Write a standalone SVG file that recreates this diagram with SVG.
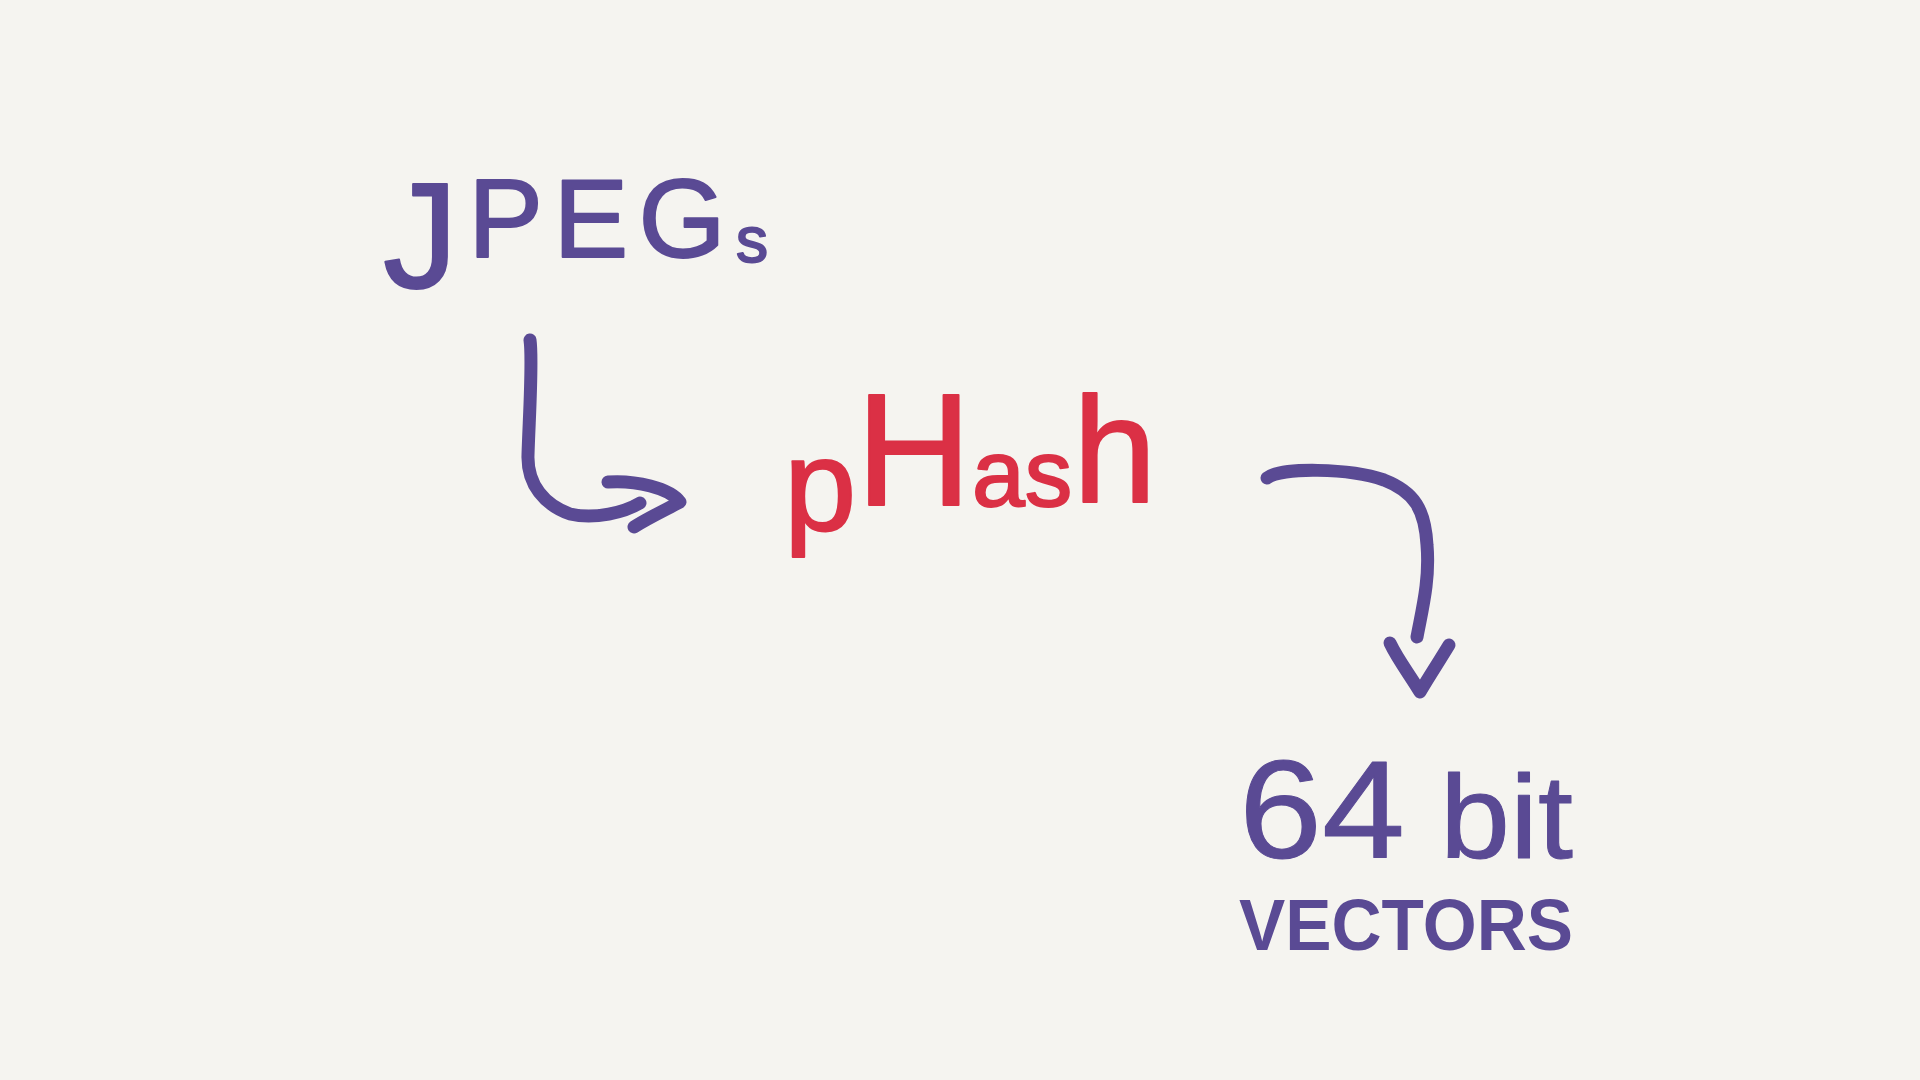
<svg xmlns="http://www.w3.org/2000/svg" width="1920" height="1080" viewBox="0 0 1920 1080">
<style>
.bg{fill:#f5f4f0}
.purple{fill:#5a4a94;stroke:#5a4a94;stroke-linejoin:round}
.red{fill:#db3045;stroke:#db3045;stroke-linejoin:round}
.t{font-family:"Liberation Sans","DejaVu Sans",sans-serif}
.ink{fill:none;stroke:#5a4a94;stroke-width:13;stroke-linecap:round;stroke-linejoin:round}
</style>
<rect class="bg" x="0" y="0" width="1920" height="1080"/>
<g id="node-jpegs">
<text class="t purple" x="383" y="288" font-size="150" stroke-width="2" textLength="385" lengthAdjust="spacing">J<tspan font-size="112" dy="-31">PEG</tspan><tspan font-size="64" dy="5">s</tspan></text>
</g>
<g id="node-phash">
<text class="t red" x="784" y="530" font-size="130" stroke-width="2">p<tspan x="856" y="505" font-size="160">H</tspan><tspan x="972" y="506" font-size="95">as</tspan><tspan x="1073" y="502" font-size="150">h</tspan></text>
</g>
<g id="node-64bit">
<text class="t purple" x="1239" y="858" font-size="140" stroke-width="1" textLength="334" lengthAdjust="spacingAndGlyphs">64<tspan font-size="118"> bit</tspan></text>
<text class="t purple" x="1239" y="950" font-size="72" font-weight="bold" stroke-width="0" textLength="334" lengthAdjust="spacingAndGlyphs">VECTORS</text>
</g>
<g id="connectors">
<path class="ink" d="M530,340 C533,360 529,420 528,455 C527,485 545,505 570,514 C595,520 625,512 640,503"/>
<path class="ink" d="M608,482 C635,480 670,488 680,502 C665,510 648,518 634,527"/>
<path class="ink" d="M1267,478 C1280,467 1350,468 1384,480 C1415,492 1425,510 1427,545 C1430,580 1422,610 1417,637"/>
<path class="ink" d="M1390,643 C1398,660 1410,675 1420,692 C1430,675 1440,660 1449,645"/>
</g>
</svg>
